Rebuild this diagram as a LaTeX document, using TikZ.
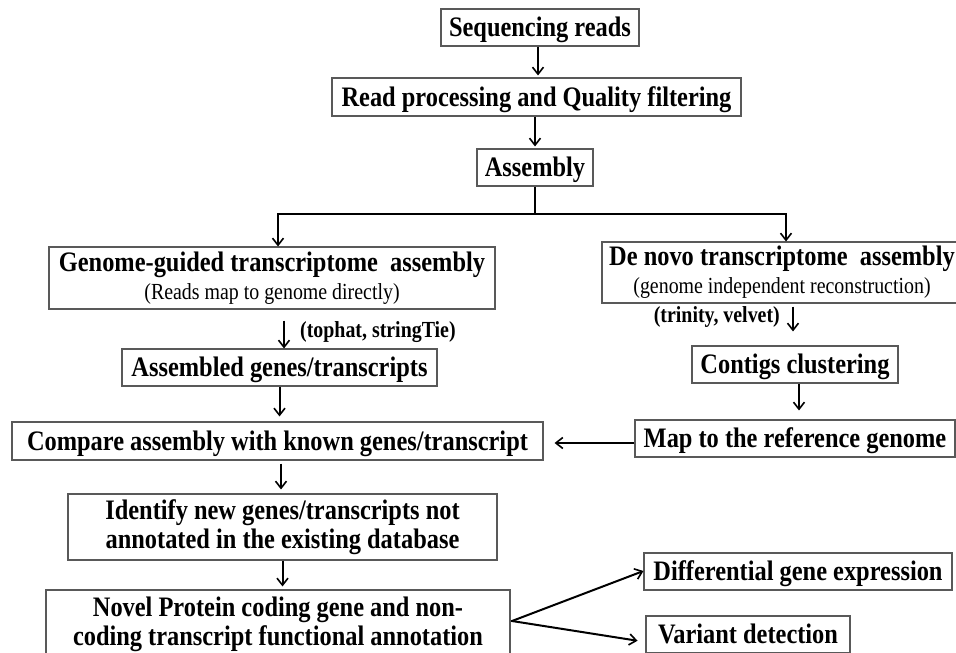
\documentclass[tikz,border=0pt]{standalone}
\usepackage{fontspec}
\setmainfont{Liberation Serif}
\newfontfamily\tallf[FakeStretch=0.865]{Liberation Serif}
\usetikzlibrary{arrows.meta}
\tikzset{
  box/.style={draw=black!65, line width=1.1pt, inner sep=0pt, align=center,
    font=\tallf\fontsize{28.2}{29}\selectfont\bfseries, text=black},
  one/.style={box, text height=18pt, text depth=0pt},
  lbl/.style={inner sep=0pt, font=\tallf\fontsize{23}{27}\selectfont\bfseries},
  arr/.style={line width=2pt, -{Straight Barb[length=7pt,width=11pt,line width=1.6pt]}},
  ln/.style={line width=2pt}
}
\newcommand{\subtxt}[1]{{\mdseries\fontsize{23}{26}\selectfont #1}}
\begin{document}
\begin{tikzpicture}[x=1pt,y=-1pt]
\useasboundingbox (0,0) rectangle (956,653);
\clip (0,0) rectangle (956,653);
\fill[white] (0,0) rectangle (956,653);

\node[one, minimum width=198pt, minimum height=37pt] (seq) at (540,27.5) {Sequencing reads};
\node[one, minimum width=409pt, minimum height=38pt] (read) at (536.5,97) {Read processing and Quality filtering};
\node[one, minimum width=116pt, minimum height=37pt] (asm) at (535,167.5) {Assembly};
\node[box, minimum width=446pt, minimum height=62pt] (gen) at (272,278) {Genome-guided transcriptome\ \ assembly\\[-1pt]\subtxt{(Reads map to genome directly)}};
\node[box, minimum width=360pt, minimum height=61pt] (dn) at (782,272.5) {De novo transcriptome\ \ assembly\\[-1pt]\subtxt{(genome independent reconstruction)}};
\node[one, minimum width=315pt, minimum height=37pt] (asd) at (279.5,367.5) {Assembled genes/transcripts};
\node[one, minimum width=206pt, minimum height=37pt] (ctg) at (795,364.5) {Contigs clustering};
\node[one, minimum width=320pt, minimum height=37pt] (map) at (795,438.5) {Map to the reference genome};
\node[one, minimum width=531pt, minimum height=38pt] (cmp) at (277.5,441) {Compare assembly with known genes/transcript};
\node[box, minimum width=429pt, minimum height=66pt] (idf) at (282.5,527) {Identify new genes/transcripts not\\annotated in the existing database};
\node[box, minimum width=464pt, minimum height=68pt] (nov) at (278,624) {Novel Protein coding gene and non-\\coding transcript functional annotation};
\node[one, minimum width=308pt, minimum height=37pt] (dge) at (798,571.5) {Differential gene expression};
\node[one, minimum width=204pt, minimum height=37pt] (var) at (748,634.5) {Variant detection};

\node[lbl, anchor=west] (l1) at (300,332) {(tophat, stringTie)};
\node[lbl, anchor=east] (l2) at (780,317) {(trinity, velvet)};

\coordinate (br) at (535,214);
\coordinate (fork) at (512,621);

\draw[arr, shorten >=2pt] ([xshift=-2pt]seq.south) -- ([xshift=-2pt]seq.south |- read.north);
\draw[arr, shorten >=2pt] (asm.north |- read.south) -- (asm.north);
\draw[ln] (asm.south) -- (br);
\draw[arr] (br) -| ([xshift=6pt]gen.north);
\draw[arr] (br) -| ([xshift=4pt]dn.north);
\draw[arr, shorten <=11pt] ([xshift=12pt]gen.south) -- ([xshift=12pt]gen.south |- asd.north);
\draw[arr, shorten <=3pt, shorten >=14pt] ([xshift=11pt]dn.south) -- ([xshift=11pt]dn.south |- ctg.north);
\draw[arr, shorten >=9pt] ([xshift=4pt]ctg.south) -- ([xshift=4pt]ctg.south |- map.north);
\draw[arr, shorten >=11pt] ([yshift=-4.5pt]map.west) -- ([yshift=-4.5pt]map.west -| cmp.east);
\draw[arr, shorten >=5pt] (asd.south) -- (asd.south |- cmp.north);
\draw[arr, shorten <=3pt, shorten >=4pt] ([xshift=3.5pt]cmp.south) -- ([xshift=3.5pt]cmp.south |- idf.north);
\draw[arr, shorten >=3pt] (idf.south) -- (idf.south |- nov.north);
\draw[ln] ([yshift=3pt]nov.east) -- (fork);
\draw[arr] (fork) -- ([yshift=0.5pt]dge.west);
\draw[arr, shorten >=8pt] (fork) -- ([yshift=-7.5pt]var.west);
\end{tikzpicture}
\end{document}
